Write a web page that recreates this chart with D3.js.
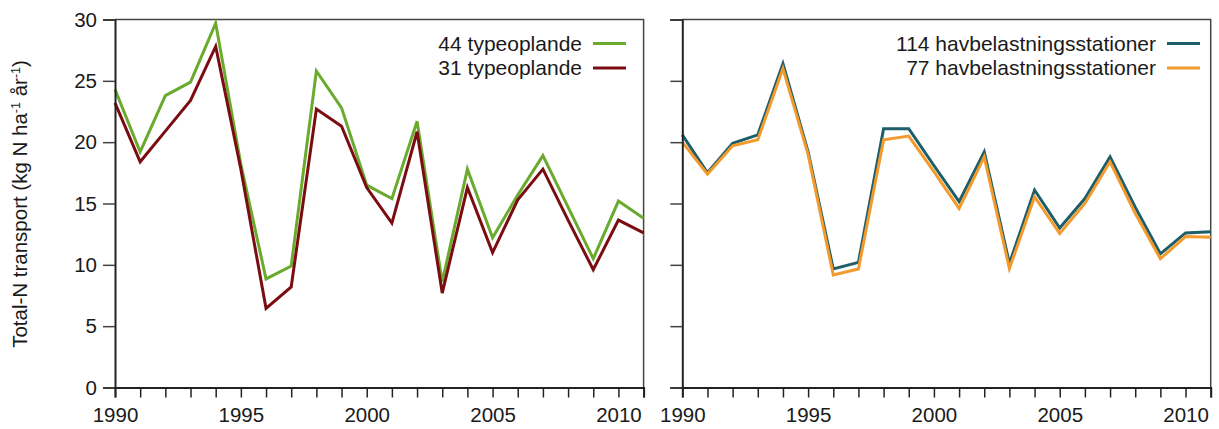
<!DOCTYPE html>
<html><head><meta charset="utf-8">
<script src="https://cdn.jsdelivr.net/npm/d3@7"></script>
<style>
body{margin:0;background:#fff;}
text{font-family:"Liberation Sans",Arial,sans-serif;fill:#1a1a1a;}
</style></head>
<body>
<svg id="chart" width="1219" height="429"></svg>
<script>
const years = d3.range(1990, 2012);
const typeoplande44 = [24.3,19.2,23.8,24.9,29.7,18.2,8.85,9.9,25.8,22.8,16.5,15.4,21.7,8.6,17.8,12.2,15.7,18.9,14.7,10.5,15.2,13.8];
const typeoplande31 = [23.2,18.4,20.9,23.4,27.8,17.8,6.45,8.2,22.7,21.3,16.3,13.4,20.85,7.7,16.3,11.0,15.3,17.8,13.65,9.6,13.65,12.6];
const havbel114 = [20.6,17.5,19.9,20.6,26.4,19.2,9.66,10.2,21.1,21.1,18.1,15.15,19.2,10.1,16.1,13.0,15.4,18.8,14.7,10.9,12.6,12.7];
const havbel77 = [20.0,17.4,19.7,20.2,26.0,19.0,9.17,9.66,20.2,20.5,17.6,14.6,18.8,9.7,15.55,12.55,15.0,18.4,14.2,10.5,12.3,12.25];
const yTicks = [0,5,10,15,20,25,30];
const xTickLabels = [1990,1995,2000,2005,2010];
const yLabelText = "Total-N transport (kg N ha";

const svg = d3.select("#chart");
const y = d3.scaleLinear().domain([0,30]).range([387.5,19.5]);
const panels = [
  {x0:115, x1:643.6, showY:true,
   series:[{name:"44 typeoplande", vals:typeoplande44, color:"#6aaa2e"},
           {name:"31 typeoplande", vals:typeoplande31, color:"#7b0d12"}],
   legendEnd:582},
  {x0:682.3, x1:1210.7, showY:false,
   series:[{name:"114 havbelastningsstationer", vals:havbel114, color:"#1d5e68"},
           {name:"77 havbelastningsstationer", vals:havbel77, color:"#f39a2c"}],
   legendEnd:1156}
];

panels.forEach(p => {
  const x = d3.scaleLinear().domain([1990,2011]).range([p.x0,p.x1]);
  const g = svg.append("g");
  g.append("path").attr("d",`M${p.x0},${y(30)}H${p.x1}V${y(0)}`)
    .attr("fill","none").attr("stroke","#444").attr("stroke-width",1.5);
  const line = d3.line().x((d,i)=>x(years[i])).y(d=>y(d));
  p.series.forEach(s => {
    g.append("path").datum(s.vals).attr("d",line)
      .attr("fill","none").attr("stroke",s.color).attr("stroke-width",3)
      .attr("stroke-linejoin","miter");
  });
  const ya = d3.axisLeft(y).tickValues(yTicks).tickSize(12).tickPadding(6)
    .tickFormat(p.showY ? d3.format("d") : "");
  const yg = g.append("g").attr("transform",`translate(${p.x0},0)`).call(ya);
  yg.select(".domain").attr("stroke","#222").attr("stroke-width",2);
  yg.selectAll(".tick line").attr("stroke","#444").attr("stroke-width",1.5);
  yg.selectAll(".tick text").attr("font-size","20.5px").attr("fill","#1a1a1a")
    .attr("font-family","Liberation Sans, Arial, sans-serif");
  const xa = d3.axisBottom(x).tickValues(years).tickSize(10).tickPadding(10)
    .tickFormat(d => xTickLabels.includes(d) ? String(d) : "");
  const xg = g.append("g").attr("transform",`translate(0,${y(0)})`).call(xa);
  xg.select(".domain").attr("stroke","#222").attr("stroke-width",2);
  xg.selectAll(".tick line").attr("stroke","#222").attr("stroke-width",1.5);
  xg.selectAll(".tick text").attr("font-size","20.5px").attr("fill","#1a1a1a")
    .attr("font-family","Liberation Sans, Arial, sans-serif");
  p.series.forEach((s,i) => {
    const by = 50.5 + i*24.5;
    g.append("text").attr("x",p.legendEnd).attr("y",by).attr("text-anchor","end")
      .attr("font-size","21px").text(s.name);
    g.append("line").attr("x1",p.legendEnd+11).attr("x2",p.legendEnd+44)
      .attr("y1",by-7).attr("y2",by-7).attr("stroke",s.color).attr("stroke-width",3);
  });
});

const yl = svg.append("text").attr("transform","translate(27,204) rotate(-90)")
  .attr("text-anchor","middle").attr("font-size","20.5px");
yl.append("tspan").text(yLabelText);
yl.append("tspan").attr("font-size","12.5px").attr("dy","-7.5").text("-1");
yl.append("tspan").attr("dy","7.5").text(" år");
yl.append("tspan").attr("font-size","12.5px").attr("dy","-7.5").text("-1");
yl.append("tspan").attr("dy","7.5").text(")");
</script>
</body></html>
